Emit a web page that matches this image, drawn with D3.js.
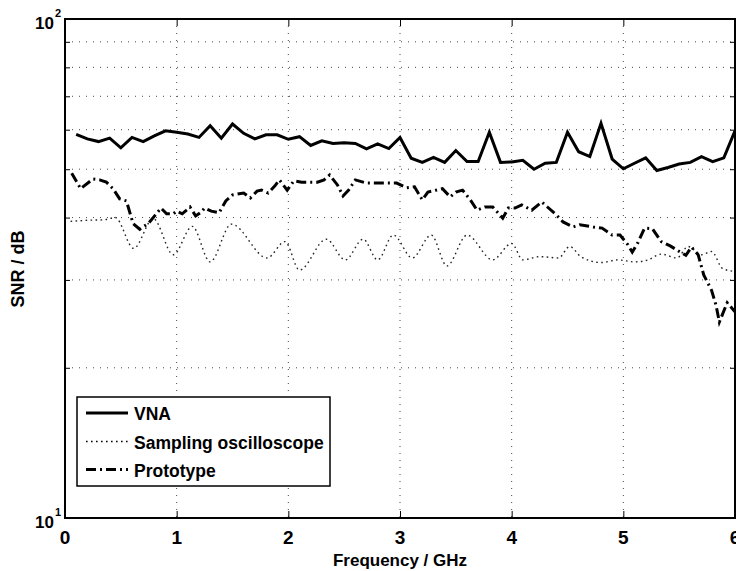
<!DOCTYPE html>
<head>
<meta charset="utf-8">
<style>
body { margin: 0; background: #fff; }
text { font-family: "Liberation Sans", Arial, sans-serif; font-weight: bold; fill: #000; }
.grid line { stroke: #333; stroke-width: 0.9; stroke-dasharray: 1,6; }
</style>
</head>
<body>
<svg width="736" height="571"></svg>
<script src="https://cdn.jsdelivr.net/npm/d3@7/dist/d3.min.js"></script>
<script type="text/javascript">

// VNA, 0.1 GHz steps
var vnaFreq = [0.1,0.2,0.3,0.4,0.5,0.6,0.7,0.8,0.9,1.0,1.1,1.2,1.3,1.4,1.5,1.6,1.7,1.8,1.9,2.0,
  2.1,2.2,2.3,2.4,2.5,2.6,2.7,2.8,2.9,3.0,3.1,3.2,3.3,3.4,3.5,3.6,3.7,3.8,3.9,4.0,
  4.1,4.2,4.3,4.4,4.5,4.6,4.7,4.8,4.9,5.0,5.1,5.2,5.3,5.4,5.5,5.6,5.7,5.8,5.9,6.0];
var vnaSnr = [58.7,57.5,56.8,57.7,55.2,57.9,56.8,58.3,59.7,59.3,58.8,57.9,61.1,57.7,61.6,59.0,57.5,58.6,58.6,57.4,
  58.1,55.8,57.0,56.3,56.5,56.3,54.9,56.2,55.0,57.9,52.6,51.6,52.8,51.6,54.5,51.8,51.8,59.3,51.6,51.7,
  52.1,50.0,51.4,51.6,59.3,54.2,53.0,61.8,52.4,50.1,51.4,52.7,49.7,50.4,51.2,51.6,53.0,51.8,52.7,59.7];

// sampling oscilloscope (peaks / troughs)
var scopeFreq = [0.05,0.2,0.35,0.45,0.615,0.79,0.97,1.14,1.3,1.49,1.81,1.97,2.1,2.34,2.51,2.67,2.8,2.94,
  3.11,3.28,3.42,3.6,3.83,4.0,4.1,4.25,4.42,4.52,4.62,4.8,4.95,5.1,5.22,5.34,5.48,5.58,5.7,5.79,5.89,6.0];
var scopeSnr = [39.3,39.5,39.6,40.0,34.7,39.8,33.7,38.4,32.6,38.8,33.2,35.8,31.4,36.2,32.9,36.2,32.9,36.9,
  33.2,36.9,32.0,36.9,32.9,35.5,32.9,33.4,33.2,35.0,33.4,32.5,32.9,32.6,32.9,33.8,33.2,35.0,33.7,34.2,31.6,31.2];

// prototype
var protoFreq = [0.06,0.14,0.25,0.31,0.37,0.43,0.49,0.55,0.61,0.67,0.75,0.81,0.86,0.91,0.97,1.0,1.05,1.12,1.17,1.22,
  1.25,1.31,1.38,1.44,1.5,1.6,1.66,1.72,1.76,1.82,1.88,1.92,1.99,2.05,2.12,2.26,2.32,2.37,2.44,2.49,
  2.54,2.6,2.7,2.82,2.97,3.06,3.13,3.2,3.25,3.38,3.45,3.5,3.56,3.63,3.69,3.76,3.83,3.92,3.97,4.03,
  4.09,4.18,4.27,4.32,4.4,4.46,4.55,4.61,4.73,4.81,4.9,4.97,5.04,5.08,5.13,5.19,5.26,5.34,5.42,5.51,
  5.56,5.61,5.67,5.72,5.79,5.83,5.86,5.93,6.0];
var protoSnr = [49.1,45.7,47.8,47.6,47.1,45.7,43.6,43.2,38.9,37.9,39.0,40.5,41.8,40.7,40.7,41.2,40.7,42.0,40.3,41.0,
  41.8,41.2,40.9,43.2,44.4,44.8,43.8,45.2,45.4,44.8,46.3,47.6,45.4,47.4,47.1,47.1,47.6,48.7,46.5,44.2,
  45.4,47.6,46.9,46.9,46.9,45.9,46.1,43.4,45.0,45.7,44.0,45.0,45.4,43.4,41.4,42.0,42.0,39.9,41.8,41.8,
  42.4,41.4,43.0,42.0,40.5,39.2,38.3,38.7,38.3,38.1,36.9,36.9,35.3,34.1,35.6,38.1,38.0,35.8,35.1,34.1,
  33.6,34.9,33.7,30.7,28.6,26.7,24.7,27.0,25.9];

var xTicks = [0,1,2,3,4,5,6];
var yGrid = [20,30,40,50,60,70,80,90];
var seriesNames = ["VNA", "Sampling oscilloscope", "Prototype"];

var svg = d3.select("svg");
// plot box (note: "top" is taken by window.top)
var pLeft = 65, pRight = 735, pTop = 19, pBottom = 518;

var x = d3.scaleLinear().domain([0, 6]).range([pLeft, pRight]);
var y = d3.scaleLog().domain([10, 100]).range([pBottom, pTop]);

// grid
var grid = svg.append("g").attr("class", "grid");
grid.selectAll(".gx").data(xTicks.slice(1, -1)).enter().append("line")
  .attr("x1", x).attr("x2", x).attr("y1", pTop).attr("y2", pBottom);
grid.selectAll(".gy").data(yGrid).enter().append("line")
  .attr("x1", pLeft).attr("x2", pRight)
  .attr("y1", function(d){ return y(d); }).attr("y2", function(d){ return y(d); });

// axes: bottom / top / left / right, ticks pointing inside
svg.append("g").attr("transform", "translate(0," + pBottom + ")")
  .call(d3.axisBottom(x).tickValues(xTicks).tickSize(-7).tickFormat(""));
svg.append("g").attr("transform", "translate(0," + pTop + ")")
  .call(d3.axisTop(x).tickValues(xTicks).tickSize(-7).tickFormat(""));
svg.append("g").attr("transform", "translate(" + pLeft + ",0)")
  .call(d3.axisLeft(y).tickValues(yGrid).tickSize(-5).tickFormat(""));
svg.append("g").attr("transform", "translate(" + pRight + ",0)")
  .call(d3.axisRight(y).tickValues(yGrid).tickSize(-5).tickFormat(""));
svg.selectAll(".domain").remove();
svg.selectAll(".tick line").attr("stroke", "#000").attr("stroke-width", 1);

svg.append("rect")
  .attr("x", pLeft).attr("y", pTop)
  .attr("width", pRight - pLeft).attr("height", pBottom - pTop)
  .attr("fill", "none").attr("stroke", "#000").attr("stroke-width", 2);

// x tick labels
svg.selectAll(".xl").data(xTicks).enter().append("text")
  .attr("x", x).attr("y", pBottom + 26)
  .attr("text-anchor", "middle").style("font-size", "19px")
  .text(String);

// y tick labels 10^1, 10^2
var yl = svg.selectAll(".yl").data([10, 100]).enter().append("text")
  .attr("x", 35).attr("y", function(d){ return y(d) + 9.5; })
  .style("font-size", "17px");
yl.append("tspan").text("10");
yl.append("tspan").attr("dy", -12).attr("dx", 1).style("font-size", "11px")
  .text(function(d){ return Math.round(Math.log10(d)); });

svg.append("text")
  .attr("x", (pLeft + pRight) / 2).attr("y", 566)
  .attr("text-anchor", "middle").style("font-size", "17px")
  .text("Frequency / GHz");

svg.append("text")
  .attr("transform", "translate(24,269) rotate(-90)")
  .attr("text-anchor", "middle").style("font-size", "18px")
  .text("SNR / dB");

// lines
var line = d3.line()
  .x(function(d){ return x(d[0]); })
  .y(function(d){ return y(d[1]); });
var smooth = d3.line().curve(d3.curveMonotoneX)
  .x(function(d){ return x(d[0]); })
  .y(function(d){ return y(d[1]); });

var styles = [
  {width: 3, dash: null},
  {width: 1.4, dash: "1.6,3.4"},
  {width: 3, dash: "10,4,2,4"}
];

svg.append("clipPath").attr("id", "plotclip").append("rect")
  .attr("x", pLeft).attr("y", pTop).attr("width", pRight - pLeft).attr("height", pBottom - pTop);

var plot = svg.append("g").attr("clip-path", "url(#plotclip)");

plot.append("path").datum(d3.zip(scopeFreq, scopeSnr))
  .attr("d", smooth).attr("fill", "none").attr("stroke", "#222")
  .attr("stroke-width", styles[1].width).attr("stroke-dasharray", styles[1].dash);

plot.append("path").datum(d3.zip(protoFreq, protoSnr))
  .attr("d", line).attr("fill", "none").attr("stroke", "#000")
  .attr("stroke-width", styles[2].width).attr("stroke-dasharray", styles[2].dash);

plot.append("path").datum(d3.zip(vnaFreq, vnaSnr))
  .attr("d", line).attr("fill", "none").attr("stroke", "#000")
  .attr("stroke-width", styles[0].width).attr("stroke-linejoin", "miter");

// legend
var lg = svg.append("g");
lg.append("rect").attr("x", 77).attr("y", 397).attr("width", 253).attr("height", 89)
  .attr("fill", "#fff").attr("stroke", "#000").attr("stroke-width", 1.5);

var item = lg.selectAll(".legend").data(seriesNames).enter().append("g")
  .attr("transform", function(d, i){ return "translate(0," + [413, 441.5, 469.5][i] + ")"; });

item.append("line")
  .attr("x1", 86).attr("x2", 128).attr("y1", 0).attr("y2", 0)
  .attr("stroke", "#000")
  .attr("stroke-width", function(d, i){ return styles[i].width; })
  .attr("stroke-dasharray", function(d, i){ return styles[i].dash; });

item.append("text")
  .attr("x", 134).attr("y", 7)
  .style("font-size", "17.5px")
  .text(String);

</script>
</body>
